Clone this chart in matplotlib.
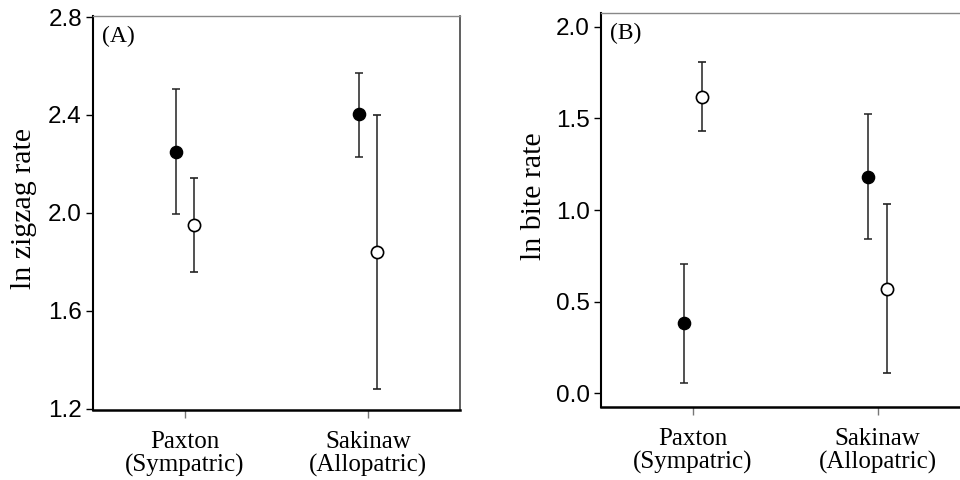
import numpy as np
import matplotlib
matplotlib.use('Agg')
import matplotlib.pyplot as plt

# populations on the x axis
sites = ['Paxton\n(Sympatric)', 'Sakinaw\n(Allopatric)']

# panel A: ln zigzag rate (filled / open symbols), mean with lower and upper limits
zig_filled = [2.25, 2.405]
zig_filled_lo = [1.995, 2.23]
zig_filled_hi = [2.507, 2.573]
zig_open = [1.951, 1.84]
zig_open_lo = [1.76, 1.28]
zig_open_hi = [2.142, 2.40]

# panel B: ln bite rate
bite_filled = [0.382, 1.182]
bite_filled_lo = [0.056, 0.842]
bite_filled_hi = [0.705, 1.524]
bite_open = [1.618, 0.567]
bite_open_lo = [1.429, 0.109]
bite_open_hi = [1.807, 1.031]

serif = ['Liberation Serif', 'DejaVu Serif']
sans = ['Liberation Sans', 'DejaVu Sans']

fig = plt.figure(figsize=(9.6, 4.8), dpi=100)
axA = fig.add_axes([0.0969, 0.146, 0.3823, 0.821])
axB = fig.add_axes([0.6257, 0.152, 0.3847, 0.821])


def draw(ax, filled, flo, fhi, opn, olo, ohi):
    x = np.arange(1, len(sites) + 1)
    f = np.array(filled)
    o = np.array(opn)
    ax.errorbar(x - 0.05, f, yerr=[f - np.array(flo), np.array(fhi) - f],
                fmt='o', color='black', ecolor='#222222', elinewidth=1.1,
                capsize=3, capthick=1.1, markersize=8.8, mfc='black', mec='black', zorder=3)
    ax.errorbar(x + 0.05, o, yerr=[o - np.array(olo), np.array(ohi) - o],
                fmt='o', color='black', ecolor='#222222', elinewidth=1.1,
                capsize=3, capthick=1.1, markersize=8.8, mfc='white', mec='black',
                mew=1.2, zorder=3)
    ax.set_xlim(0.5, 2.5)
    ax.set_xticks(x)
    ax.set_xticklabels(sites, family=serif, fontsize=18, linespacing=1.05)
    ax.tick_params(axis='x', length=6, width=1, color='#777777', pad=9)
    ax.tick_params(axis='y', length=5, width=1, pad=3, labelsize=17.5)
    for lab in ax.get_yticklabels():
        lab.set_family(sans)
    ax.spines['left'].set_linewidth(1.5)
    ax.spines['bottom'].set_linewidth(1.8)
    ax.spines['top'].set_color('#888888')
    ax.spines['top'].set_linewidth(1.0)
    ax.spines['right'].set_color('#444444')
    ax.spines['right'].set_linewidth(1.2)


draw(axA, zig_filled, zig_filled_lo, zig_filled_hi, zig_open, zig_open_lo, zig_open_hi)
axA.set_ylim(1.195, 2.805)
axA.set_yticks([1.2, 1.6, 2.0, 2.4, 2.8])
axA.set_yticklabels(['1.2', '1.6', '2.0', '2.4', '2.8'], family=sans)
axA.set_ylabel('ln zigzag rate', family=serif, fontsize=21.5)
axA.yaxis.set_label_coords(-0.153, 0.51)
axA.text(0.025, 0.975, '(A)', transform=axA.transAxes, family=serif,
         fontsize=17, va='top', ha='left')

draw(axB, bite_filled, bite_filled_lo, bite_filled_hi, bite_open, bite_open_lo, bite_open_hi)
axB.set_ylim(-0.075, 2.075)
axB.set_yticks([0.0, 0.5, 1.0, 1.5, 2.0])
axB.set_yticklabels(['0.0', '0.5', '1.0', '1.5', '2.0'], family=sans)
axB.set_ylabel('ln bite rate', family=serif, fontsize=21.5)
axB.yaxis.set_label_coords(-0.145, 0.535)
axB.text(0.025, 0.975, '(B)', transform=axB.transAxes, family=serif,
         fontsize=17, va='top', ha='left')

fig.savefig('out.png', dpi=100)
